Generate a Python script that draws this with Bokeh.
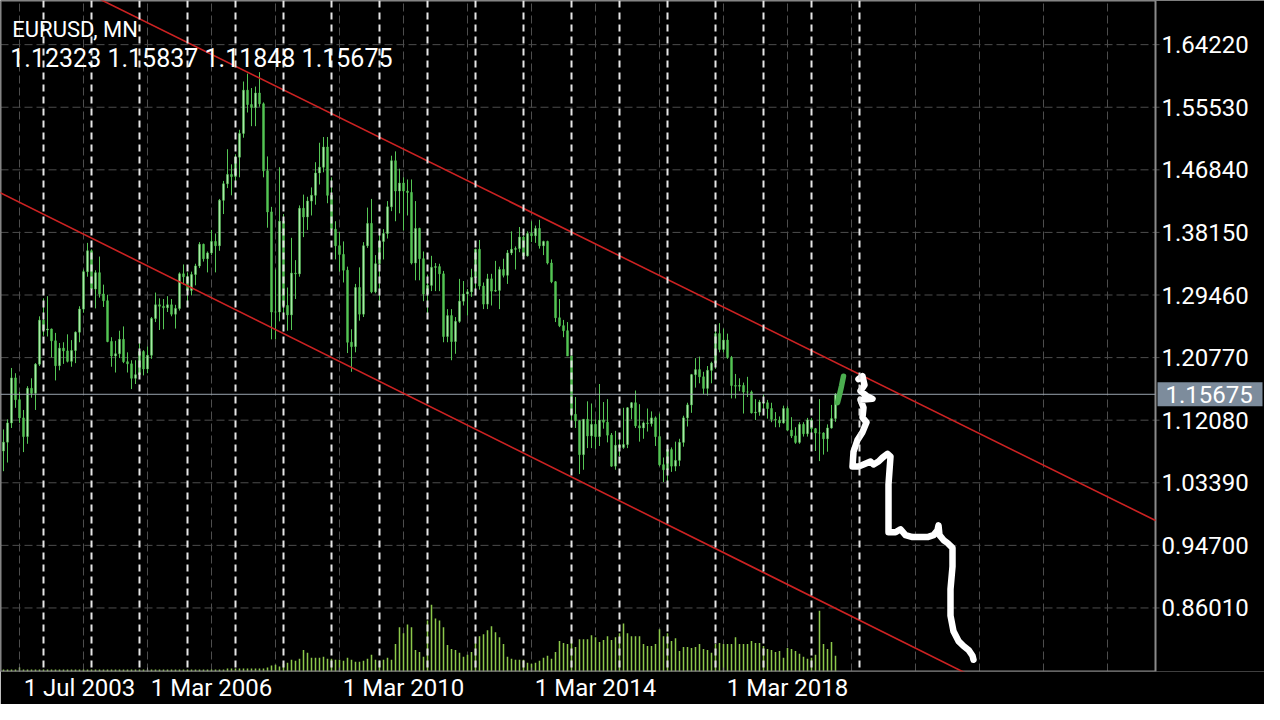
from bokeh.plotting import figure
from bokeh.models import Range1d, FixedTicker, Span, Label
from bokeh.core.properties import value
from bokeh.embed import file_html
from bokeh.resources import INLINE

# ---------------- data ----------------
symbol_title = "EURUSD, MN"
ohlc_header = "1.12323 1.15837 1.11848 1.15675"
last_price = 1.15675

# month index: 0 = Jan 2003; first bar = Mar 2003
first_month = 2

opens = [
    1.0780, 1.0903, 1.1170, 1.1795, 1.1493, 1.1240, 1.0980, 1.1650, 1.1581, 1.1985,
    1.2597, 1.2460, 1.2474, 1.2310, 1.1965, 1.2208, 1.2170, 1.2025, 1.2175, 1.2430, 1.2750, 1.3270,
    1.3560, 1.3030, 1.3256, 1.2960, 1.2866, 1.2300, 1.2100, 1.2130, 1.2330, 1.2020, 1.1990, 1.1790,
    1.1840, 1.2160, 1.1920, 1.2110, 1.2620, 1.2810, 1.2790, 1.2770, 1.2810, 1.2680, 1.2760, 1.3240,
    1.3200, 1.3010, 1.3230, 1.3350, 1.3650, 1.3450, 1.3530, 1.3690, 1.3630, 1.4260, 1.4490, 1.4620,
    1.4590, 1.4860, 1.5190, 1.5790, 1.5590, 1.5550, 1.5750, 1.5600, 1.4670, 1.4100, 1.2710, 1.2710,
    1.3970, 1.2800, 1.2670, 1.3250, 1.3240, 1.4150, 1.4030, 1.4250, 1.4330, 1.4640, 1.4720, 1.5000,
    1.4330, 1.3860, 1.3630, 1.3510, 1.3290, 1.2290, 1.2230, 1.3050, 1.2680, 1.3630, 1.3940, 1.2990,
    1.3380, 1.3690, 1.3800, 1.4170, 1.4810, 1.4390, 1.4500, 1.4390, 1.4370, 1.3390, 1.3870, 1.3450,
    1.2960, 1.3080, 1.3330, 1.3340, 1.3240, 1.2370, 1.2660, 1.2300, 1.2580, 1.2860, 1.2960, 1.2990,
    1.3190, 1.3580, 1.3070, 1.2820, 1.3170, 1.3000, 1.3010, 1.3300, 1.3220, 1.3530, 1.3580, 1.3590,
    1.3750, 1.3490, 1.3800, 1.3770, 1.3870, 1.3630, 1.3690, 1.3390, 1.3130, 1.2630, 1.2520, 1.2450,
    1.2100, 1.1290, 1.1200, 1.0730, 1.1220, 1.0990, 1.1150, 1.0980, 1.1210, 1.1180, 1.1000, 1.0570,
    1.0860, 1.0830, 1.0870, 1.1380, 1.1450, 1.1130, 1.1100, 1.1170, 1.1160, 1.1240, 1.0980, 1.0590,
    1.0520, 1.0800, 1.0570, 1.0650, 1.0900, 1.1240, 1.1420, 1.1840, 1.1910, 1.1810, 1.1650, 1.1900,
    1.2000, 1.2410, 1.2190, 1.2320, 1.2080, 1.1690, 1.1680, 1.1690, 1.1600, 1.1600, 1.1310, 1.1320,
    1.1460, 1.1450, 1.1370, 1.1220, 1.1210, 1.1170, 1.1370, 1.1070, 1.0990, 1.0900, 1.1150, 1.1020,
    1.1210, 1.1090, 1.1030, 1.1030, 1.0950, 1.1100, 1.12323,
]
highs = [
    1.1080, 1.1220, 1.1933, 1.1860, 1.1600, 1.1350, 1.1680, 1.1790, 1.2000, 1.2650,
    1.2900, 1.2930, 1.2480, 1.2420, 1.2280, 1.2290, 1.2400, 1.2320, 1.2440, 1.2790, 1.3300, 1.3670,
    1.3580, 1.3290, 1.3480, 1.3090, 1.2950, 1.2360, 1.2310, 1.2450, 1.2510, 1.2150, 1.2040, 1.2040,
    1.2320, 1.2180, 1.2230, 1.2640, 1.2980, 1.2900, 1.2890, 1.2930, 1.2890, 1.2810, 1.3260, 1.3370,
    1.3260, 1.3270, 1.3380, 1.3680, 1.3660, 1.3550, 1.3850, 1.3800, 1.4280, 1.4530, 1.4970, 1.4760,
    1.4900, 1.5240, 1.5910, 1.6020, 1.5820, 1.5840, 1.6040, 1.5620, 1.4870, 1.4170, 1.3300, 1.4720,
    1.4070, 1.3050, 1.3740, 1.3430, 1.4190, 1.4340, 1.4310, 1.4440, 1.4790, 1.5060, 1.5140, 1.5140,
    1.4580, 1.3970, 1.3820, 1.3690, 1.3340, 1.2470, 1.3100, 1.3330, 1.3680, 1.4160, 1.4280, 1.3500,
    1.3860, 1.3860, 1.4250, 1.4880, 1.4940, 1.4700, 1.4580, 1.4550, 1.4550, 1.4250, 1.3880, 1.3550,
    1.3230, 1.3490, 1.3390, 1.3380, 1.3280, 1.2750, 1.2750, 1.2640, 1.3170, 1.3140, 1.3030, 1.3310,
    1.3590, 1.3710, 1.3120, 1.3240, 1.3240, 1.3420, 1.3340, 1.3450, 1.3570, 1.3830, 1.3620, 1.3890,
    1.3770, 1.3830, 1.3970, 1.3910, 1.3990, 1.3700, 1.3700, 1.3440, 1.3140, 1.2890, 1.2600, 1.2570,
    1.2100, 1.1530, 1.1210, 1.1220, 1.1470, 1.1440, 1.1220, 1.1710, 1.1460, 1.1500, 1.1030, 1.1060,
    1.0990, 1.1380, 1.1390, 1.1460, 1.1620, 1.1430, 1.1190, 1.1370, 1.1330, 1.1260, 1.1300, 1.0690,
    1.0830, 1.0830, 1.0910, 1.0950, 1.1270, 1.1450, 1.1850, 1.2070, 1.2090, 1.1880, 1.1960, 1.2020,
    1.2540, 1.2555, 1.2480, 1.2410, 1.2100, 1.1850, 1.1790, 1.1730, 1.1810, 1.1620, 1.1500, 1.1490,
    1.1570, 1.1490, 1.1450, 1.1320, 1.1260, 1.1410, 1.1400, 1.1250, 1.1110, 1.1180, 1.1180, 1.1240,
    1.1240, 1.1100, 1.1500, 1.1040, 1.1150, 1.1420, 1.15837,
]
lows = [
    1.0500, 1.0620, 1.1100, 1.1380, 1.1170, 1.0765, 1.0880, 1.1520, 1.1350, 1.1960,
    1.2380, 1.2370, 1.2080, 1.1760, 1.1900, 1.1990, 1.2010, 1.1950, 1.2000, 1.2290, 1.2700, 1.3200,
    1.2960, 1.2760, 1.2910, 1.2780, 1.2290, 1.1950, 1.1870, 1.2070, 1.2000, 1.1870, 1.1640, 1.1710,
    1.1800, 1.1830, 1.1860, 1.2060, 1.2570, 1.2460, 1.2470, 1.2710, 1.2650, 1.2480, 1.2730, 1.3090,
    1.2860, 1.2940, 1.3080, 1.3320, 1.3410, 1.3260, 1.3500, 1.3260, 1.3560, 1.4070, 1.4430, 1.4330,
    1.4520, 1.4580, 1.5130, 1.5480, 1.5290, 1.5290, 1.5560, 1.4580, 1.3880, 1.2330, 1.2330, 1.2580,
    1.2670, 1.2450, 1.2460, 1.2890, 1.3200, 1.3750, 1.3850, 1.4050, 1.4200, 1.4480, 1.4650, 1.4220,
    1.3860, 1.3440, 1.3270, 1.3120, 1.2140, 1.1880, 1.2150, 1.2590, 1.2640, 1.3600, 1.2970, 1.2970,
    1.2870, 1.3440, 1.3730, 1.4110, 1.3970, 1.4080, 1.3840, 1.4050, 1.3370, 1.3150, 1.3150, 1.2860,
    1.2620, 1.3000, 1.3000, 1.3000, 1.2290, 1.2290, 1.2040, 1.2130, 1.2560, 1.2800, 1.2660, 1.2920,
    1.3000, 1.3020, 1.2750, 1.2750, 1.2800, 1.2990, 1.2750, 1.3190, 1.3100, 1.3500, 1.3300, 1.3540,
    1.3490, 1.3480, 1.3680, 1.3670, 1.3590, 1.3500, 1.3370, 1.3110, 1.2570, 1.2500, 1.2360, 1.2100,
    1.1100, 1.1100, 1.0460, 1.0520, 1.0820, 1.0820, 1.0810, 1.0850, 1.1090, 1.0900, 1.0560, 1.0520,
    1.0710, 1.0810, 1.0820, 1.1220, 1.1100, 1.0910, 1.0950, 1.1050, 1.1120, 1.0850, 1.0570, 1.0350,
    1.0340, 1.0490, 1.0500, 1.0570, 1.0840, 1.1120, 1.1310, 1.1660, 1.1720, 1.1570, 1.1550, 1.1720,
    1.1920, 1.2150, 1.2150, 1.2060, 1.1510, 1.1510, 1.1610, 1.1300, 1.1530, 1.1300, 1.1210, 1.1270,
    1.1290, 1.1230, 1.1180, 1.1110, 1.1110, 1.1160, 1.1060, 1.0960, 1.0880, 1.0880, 1.0980, 1.0980,
    1.0990, 1.0780, 1.0640, 1.0730, 1.0770, 1.1090, 1.11848,
]
closes = [
    1.0903, 1.1170, 1.1795, 1.1493, 1.1240, 1.0980, 1.1650, 1.1581, 1.1985, 1.2597,
    1.2460, 1.2474, 1.2310, 1.1965, 1.2208, 1.2170, 1.2025, 1.2175, 1.2430, 1.2750, 1.3270, 1.3560,
    1.3030, 1.3256, 1.2960, 1.2866, 1.2300, 1.2100, 1.2130, 1.2330, 1.2020, 1.1990, 1.1790, 1.1840,
    1.2160, 1.1920, 1.2110, 1.2620, 1.2810, 1.2790, 1.2770, 1.2810, 1.2680, 1.2760, 1.3240, 1.3200,
    1.3010, 1.3230, 1.3350, 1.3650, 1.3450, 1.3530, 1.3690, 1.3630, 1.4260, 1.4490, 1.4620, 1.4590,
    1.4860, 1.5190, 1.5790, 1.5590, 1.5550, 1.5750, 1.5600, 1.4670, 1.4100, 1.2710, 1.2710, 1.3970,
    1.2800, 1.2670, 1.3250, 1.3240, 1.4150, 1.4030, 1.4250, 1.4330, 1.4640, 1.4720, 1.5000, 1.4330,
    1.3860, 1.3630, 1.3510, 1.3290, 1.2290, 1.2230, 1.3050, 1.2680, 1.3630, 1.3940, 1.2990, 1.3380,
    1.3690, 1.3800, 1.4170, 1.4810, 1.4390, 1.4500, 1.4390, 1.4370, 1.3390, 1.3870, 1.3450, 1.2960,
    1.3080, 1.3330, 1.3340, 1.3240, 1.2370, 1.2660, 1.2300, 1.2580, 1.2860, 1.2960, 1.2990, 1.3190,
    1.3580, 1.3070, 1.2820, 1.3170, 1.3000, 1.3010, 1.3300, 1.3220, 1.3530, 1.3580, 1.3590, 1.3750,
    1.3490, 1.3800, 1.3770, 1.3870, 1.3630, 1.3690, 1.3390, 1.3130, 1.2630, 1.2520, 1.2450, 1.2100,
    1.1290, 1.1200, 1.0730, 1.1220, 1.0990, 1.1150, 1.0980, 1.1210, 1.1180, 1.1000, 1.0570, 1.0860,
    1.0830, 1.0870, 1.1380, 1.1450, 1.1130, 1.1100, 1.1170, 1.1160, 1.1240, 1.0980, 1.0590, 1.0520,
    1.0800, 1.0570, 1.0650, 1.0900, 1.1240, 1.1420, 1.1840, 1.1910, 1.1810, 1.1650, 1.1900, 1.2000,
    1.2410, 1.2190, 1.2320, 1.2080, 1.1690, 1.1680, 1.1690, 1.1600, 1.1600, 1.1310, 1.1320, 1.1460,
    1.1450, 1.1370, 1.1220, 1.1210, 1.1170, 1.1370, 1.1070, 1.0990, 1.0900, 1.1150, 1.1020, 1.1210,
    1.1090, 1.1030, 1.1030, 1.0950, 1.1100, 1.1230, 1.15675,
]
# tick volume (arbitrary units)
volumes = [
    2, 2, 2, 2, 4, 2, 2, 2, 2, 2,
    2, 2, 2, 2, 2, 2, 2, 2, 2, 2, 2, 2,
    2, 2, 2, 2, 2, 2, 2, 2, 2, 2, 2, 2,
    2, 2, 2, 2, 2, 2, 2, 2, 2, 2, 2, 2,
    2, 2, 2, 2, 2, 2, 2, 2, 2, 2, 3, 3,
    3, 3, 3, 3, 3, 3, 3, 3, 4, 6, 7, 5,
    8, 9, 12, 11, 13, 22, 19, 14, 14, 14, 15, 13,
    13, 12, 12, 11, 14, 12, 10, 10, 11, 13, 17, 12,
    11, 12, 14, 12, 28, 45, 39, 48, 45, 22, 20, 15,
    52, 68, 54, 52, 45, 27, 23, 22, 19, 15, 17, 20,
    29, 36, 38, 42, 46, 40, 35, 28, 15, 13, 12, 12,
    12, 9, 8, 9, 11, 14, 16, 13, 20, 31, 29, 28,
    33, 25, 33, 33, 33, 37, 35, 30, 32, 36, 32, 35,
    39, 49, 39, 36, 36, 36, 28, 26, 26, 28, 43, 36,
    39, 31, 34, 21, 25, 25, 24, 25, 28, 23, 22, 19,
    28, 29, 28, 28, 28, 35, 28, 28, 28, 31, 29, 29,
    26, 23, 22, 20, 21, 14, 24, 23, 21, 18, 15, 13,
    14, 17, 62, 28, 23, 30, 16,
]

price_ticks = [0.86010, 0.94700, 1.03390, 1.12080, 1.20770,
               1.29460, 1.38150, 1.46840, 1.55530, 1.64220]
date_label_months = [6, 38, 86, 134, 182]
date_labels = ["1 Jul 2003", "1 Mar 2006", "1 Mar 2010", "1 Mar 2014", "1 Mar 2018"]
year_separator_months = [12 * k for k in range(1, 19)]  # 1 Jan 2004 .. 1 Jan 2021

# trend channel anchors (month, price)
upper_trend_m = [24.0, 290.0]
upper_trend_p = [1.7110, 0.9816]
lower_trend_m = [0.0, 250.0]
lower_trend_p = [1.4400, 0.7490]

# hand-drawn projection (month, price)
sketch_m = [215.75, 216.75, 217.25, 216.25, 217.75, 219.25, 216.25, 217.0, 216.75, 217.75,
            216.75, 215.5, 214.5, 214.25, 215.75, 217.0, 218.75, 219.5, 220.75, 221.75,
            223.0, 223.75, 223.25, 223.25, 223.25, 225.0, 226.25, 227.5, 229.25, 231.25,
            233.0, 234.5, 235.5, 235.75, 236.0, 237.0, 238.0, 239.25, 239.25, 238.75,
            238.75, 239.5, 240.75, 242.0, 243.25, 244.25, 244.5]
sketch_p = [1.1778, 1.1818, 1.1696, 1.1614, 1.1546, 1.1505, 1.1492, 1.1383, 1.1246, 1.1178,
            1.1042, 1.0933, 1.0770, 1.0565, 1.0565, 1.0593, 1.0634, 1.0593, 1.0634, 1.0688,
            1.0742, 1.0702, 1.0320, 0.9953, 0.9653, 0.9653, 0.9694, 0.9612, 0.9585, 0.9585,
            0.9585, 0.9612, 0.9680, 0.9748, 0.9612, 0.9544, 0.9503, 0.9435, 0.9176, 0.8863,
            0.8495, 0.8277, 0.8141, 0.8073, 0.8018, 0.7937, 0.7882]
green_stroke_m = [210.5, 211.0, 211.5, 212.0]
green_stroke_p = [1.1451, 1.1560, 1.1682, 1.1818]

# ---------------- figure ----------------
W, H = 1264, 704
PX_PER_MONTH = 4.0
BOTTOM = 30
X0 = 1.25                           # left edge of the chart
X_EDGE = 290.0                      # right edge of the chart area (price scale starts here)
X1 = X0 + W / PX_PER_MONTH          # right edge of the canvas
Y0, Y1 = 0.77188, 1.70349
FONT = "Roboto"
WICK = "#55c655"
BORDER = "#8a8a8a"

months = list(range(first_month, first_month + len(closes)))
body_top = [max(o, c) for o, c in zip(opens, closes)]
body_bot = [min(o, c) for o, c in zip(opens, closes)]
body_fill = ["#b4f2b4" if c >= o else WICK for o, c in zip(opens, closes)]

p = figure(width=W, height=H, x_range=Range1d(X0, X1), y_range=Range1d(Y0, Y1),
           output_backend="svg", toolbar_location=None, title=None,
           y_axis_location=None,
           min_border_left=0, min_border_top=0, min_border_right=0,
           min_border_bottom=BOTTOM,
           background_fill_color="black", border_fill_color="black",
           outline_line_color=None)
p.extra_y_ranges = {"vol": Range1d(0, 684)}

# vertical grid
p.xgrid.ticker = FixedTicker(ticks=list(range(6, 290, 16)))
p.xgrid.grid_line_color = "#4d4d4d"
p.xgrid.grid_line_dash = "8 4"
p.ygrid.visible = False

# horizontal grid lines at the price levels (ending with a small tick on the scale)
n = len(price_ticks)
p.segment(x0=[X0] * n, y0=price_ticks, x1=[X_EDGE + 1.0] * n, y1=price_ticks,
          line_color="#4d4d4d", line_dash="8 4", line_width=1)

# price scale labels
p.text(x=[X_EDGE] * n, y=price_ticks, text=[f"{t:.5f}" for t in price_ticks],
       x_offset=6, text_align="left", text_baseline="middle", text_color="white",
       text_font=value(FONT), text_font_size="24px")

# x axis (below): label text starts at its date
label_centers = [m + s for m, s in zip(date_label_months, [15, 16, 16, 16, 16])]
xax = p.xaxis[0]
xax.ticker = FixedTicker(ticks=label_centers, minor_ticks=date_label_months)
xax.major_label_overrides = {c: t for c, t in zip(label_centers, date_labels)}
xax.axis_line_color = None
xax.major_tick_line_color = None
xax.major_tick_out = 0
xax.major_tick_in = 0
xax.minor_tick_out = 0
xax.minor_tick_in = 4
xax.minor_tick_line_color = BORDER
xax.major_label_standoff = 2
xax.major_label_text_color = "white"
xax.major_label_text_font = FONT
xax.major_label_text_font_size = "24px"

# volumes
p.vbar(x=months, top=volumes, bottom=0, width=0.38, y_range_name="vol",
       fill_color="#8cc84b", line_color=None)

# candles
p.segment(x0=months, y0=lows, x1=months, y1=highs, line_color=WICK, line_width=1)
p.vbar(x=months, top=body_top, bottom=body_bot, width=0.45,
       fill_color=body_fill, line_color=WICK, line_width=0.6)

# yearly separators
for m in year_separator_months:
    p.add_layout(Span(location=m, dimension="height", line_color="#e6e6e6",
                      line_width=2, line_dash="7 5"))

# chart border (chart area only, price scale outside it)
p.quad(left=[X0], right=[X_EDGE], bottom=[Y0], top=[Y1], fill_color=None,
       line_color=BORDER, line_width=2)

# last price line and tag
p.segment(x0=[X0], y0=[last_price], x1=[X_EDGE], y1=[last_price],
          line_color="#9aa4ae", line_width=1)
p.rect(x=[X_EDGE + 54.5 / PX_PER_MONTH], y=[last_price], width=105, height=24,
       width_units="screen", height_units="screen", fill_color="#7d8c9c", line_color=None)
p.text(x=[X_EDGE], y=[last_price], text=[f"{last_price:.5f}"], x_offset=10,
       text_align="left", text_baseline="middle", text_color="white",
       text_font=value(FONT), text_font_size="24px")

# trend channel
p.line(upper_trend_m, upper_trend_p, line_color="#cc2222", line_width=1.6)
p.line(lower_trend_m, lower_trend_p, line_color="#cc2222", line_width=1.6)

# hand drawing
p.line(green_stroke_m, green_stroke_p, line_color="#4caf50", line_width=5.5,
       line_cap="round", line_join="round")
p.line(sketch_m, sketch_p, line_color="white", line_width=6.5,
       line_cap="round", line_join="round")

# header texts
p.add_layout(Label(x=4.2, y=1.6628, text=symbol_title, text_color="white",
                   text_font=FONT, text_font_size="22px", text_baseline="alphabetic"))
p.add_layout(Label(x=3.7, y=1.6223, text=ohlc_header, text_color="white",
                   text_font=FONT, text_font_size="25px", text_baseline="alphabetic"))

open("out.html", "w").write(file_html(p, INLINE))
